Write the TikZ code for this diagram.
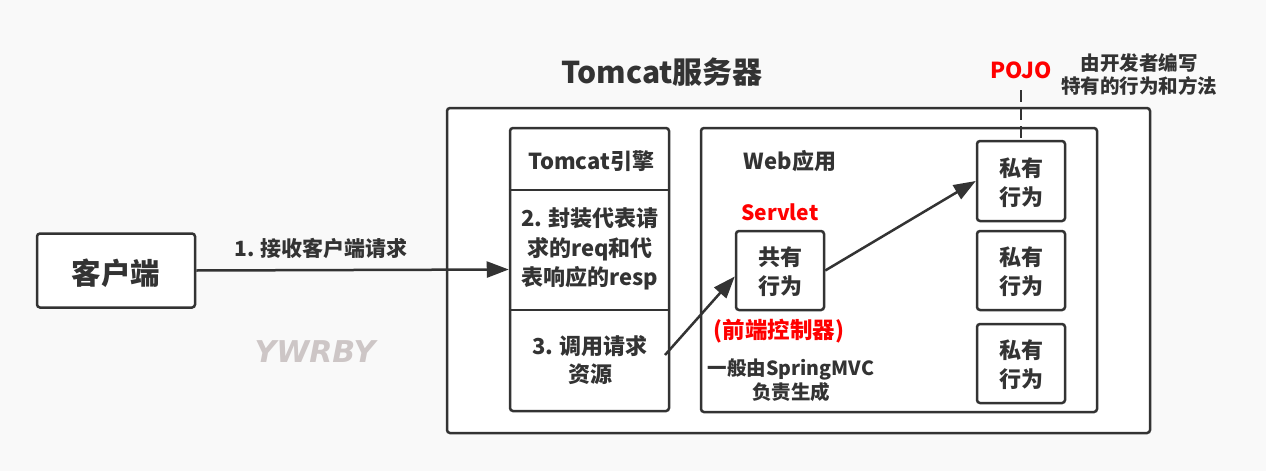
\documentclass[tikz,border=0pt]{standalone}
\usepackage{fontspec}
\setmainfont{Noto Sans CJK SC}
\newfontfamily\wmfont{DejaVu Sans}
\usetikzlibrary{arrows.meta,calc}
\definecolor{ink}{HTML}{333333}
\definecolor{bgc}{HTML}{F9F9F9}
\definecolor{redt}{HTML}{FF0000}
\definecolor{wm}{HTML}{CDC6C6}
\tikzset{
  box/.style={draw=ink, line width=2.5pt, rounded corners=3pt, fill=white, inner sep=0pt},
  txt/.style={text=ink, align=center, inner sep=0pt},
  conn/.style={draw=ink, line width=2.5pt, -{Triangle[length=22pt,width=16pt]}},
}
\begin{document}
\begin{tikzpicture}[x=1pt,y=-1pt]
\useasboundingbox (0,0) rectangle (1266,471);
\fill[bgc] (0,0) rectangle (1266,471);
% title
\node[txt, font=\fontsize{30}{34}\selectfont\bfseries] (title) at (662,72) {Tomcat服务器};
% server box
\node[box, minimum width=703pt, minimum height=325pt] (server) at (798.5,270.5) {};
% client
\node[box, minimum width=158pt, minimum height=74pt] (client) at (116,270.5) {};
\node[txt, font=\fontsize{29.5}{32}\selectfont\bfseries] (clienttxt) at (116,273) {客户端};
% engine
\node[box, minimum width=159pt, minimum height=283pt] (engine) at (589.5,269.5) {};
\coordinate (d1a) at (engine.west |- 0,190);
\coordinate (d1b) at (engine.east |- 0,190);
\coordinate (d2a) at (engine.west |- 0,310);
\coordinate (d2b) at (engine.east |- 0,310);
\draw[ink, line width=2.5pt] (d1a) -- (d1b);
\draw[ink, line width=2.5pt] (d2a) -- (d2b);
\node[txt, font=\fontsize{22}{24}\selectfont\bfseries] (engtitle) at (591,161) {Tomcat引擎};
\node[txt, font=\fontsize{22}{29.5}\selectfont\bfseries] (step2) at (590,249) {2. 封装代表请\\求的req和代\\表响应的resp};
\node[txt, font=\fontsize{22}{28}\selectfont\bfseries] (step3) at (590,360) {3. 调用请求\\资源};
% web app
\node[box, minimum width=396pt, minimum height=284pt] (web) at (899,270) {};
\node[txt, font=\fontsize{22}{24}\selectfont\bfseries] (webtitle) at (790,161) {Web应用};
\node[txt, text=redt, font=\fontsize{21}{24}\selectfont\bfseries] (servlet) at (780,212) {Servlet};
\node[box, minimum width=88pt, minimum height=79pt] (shared) at (780,270.5) {};
\node[txt, font=\fontsize{22}{29}\selectfont\bfseries] (sharedtxt) at (780,272) {共有\\行为};
\node[txt, text=redt, font=\fontsize{22.5}{26}\selectfont\bfseries] (front) at (779,331) {(前端控制器)};
\node[txt, font=\fontsize{19.5}{24}\selectfont\bfseries] (smvc) at (791,380) {一般由SpringMVC\\负责生成};
% private boxes
\node[box, minimum width=88pt, minimum height=80pt] (p1) at (1021,181) {};
\node[txt, font=\fontsize{22}{29}\selectfont\bfseries] (p1txt) at (1021,183) {私有\\行为};
\node[box, minimum width=88pt, minimum height=79pt] (p2) at (1021,270.5) {};
\node[txt, font=\fontsize{22}{29}\selectfont\bfseries] (p2txt) at (1021,272) {私有\\行为};
\node[box, minimum width=88pt, minimum height=79pt] (p3) at (1021,363.5) {};
\node[txt, font=\fontsize{22}{29}\selectfont\bfseries] (p3txt) at (1021,365) {私有\\行为};
% POJO
\node[txt, text=redt, font=\fontsize{22}{26}\selectfont\bfseries] (pojo) at (1021,70) {POJO};
\node[txt, font=\fontsize{19.5}{23}\selectfont\bfseries] (pojonote) at (1139,75) {由开发者编写\\特有的行为和方法};
\coordinate (pojoline) at (1021,90);
\draw[ink, line width=2.5pt, dash pattern=on 12pt off 6pt] (pojoline) -- (p1.north);
% watermark
\node[txt, text=wm, font=\wmfont\fontsize{30}{34}\selectfont\bfseries\itshape] (wmark) at (315,352) {YWRBY};
% connectors
\node[txt, font=\fontsize{21}{24}\selectfont\bfseries] (lbl1) at (321,248) {1. 接收客户端请求};
\draw[conn] (client.east) -- (engine.west);
\coordinate (a3start) at (665,355);
\draw[conn] (a3start) -- ([yshift=-6pt]shared.west);
\draw[conn] (shared.east) -- (p1.west);
\end{tikzpicture}
\end{document}
